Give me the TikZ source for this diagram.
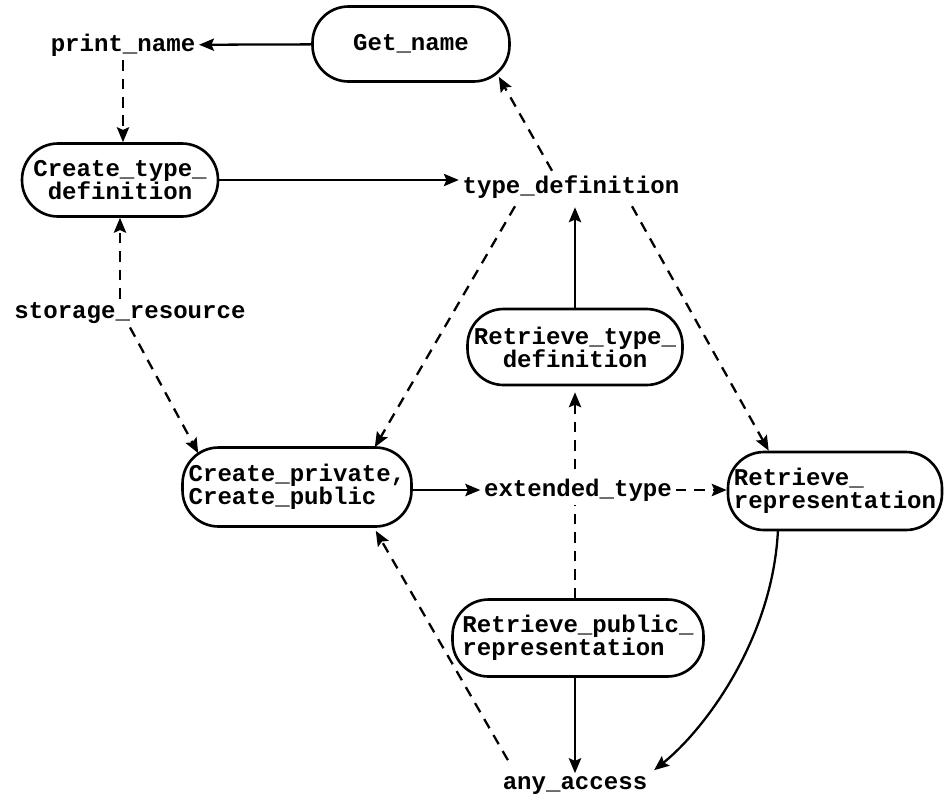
\documentclass[tikz,border=0pt]{standalone}
\usepackage{fontspec}
\setmainfont{Liberation Mono}
\usetikzlibrary{arrows.meta,calc,backgrounds}

\begin{document}
\begin{tikzpicture}[x=0.02cm,y=-0.02cm,
  font=\fontsize{13.7}{13.2}\selectfont\bfseries,
  proc/.style={draw,line width=1.5pt,rounded corners=0.72cm,inner sep=0pt,align=center},
  data/.style={inner sep=2pt},
  flow/.style={line width=1.3pt,-{Stealth[length=8.5pt,width=7pt,inset=1.5pt]}},
  dep/.style={flow,dash pattern=on 6pt off 4.5pt},
]
\useasboundingbox (0,0) rectangle (944,799);

% operations and the objects they handle
\node[proc,minimum width=3.94cm,minimum height=1.5cm] (getname) at (411,44) {Get\_name};
\node[data] (printname) at (123,45) {print\_name};
\node[proc,minimum width=3.92cm,minimum height=1.46cm] (createtype) at (120,180) {Create\_type\_\\definition};
\node[data] (typedef) at (571,187) {type\_definition};
\node[data] (storage) at (130,313) {storage\_resource};
\node[proc,minimum width=4.3cm,minimum height=1.52cm] (retrtype) at (575,347) {Retrieve\_type\_\\definition};
\node[proc,align=left,minimum width=4.58cm,minimum height=1.58cm] (createpriv) at (297,487) {Create\_private,\\Create\_public};
\node[data,fill=white] (exttype) at (578,490) {extended\_type};
\node[proc,align=left,minimum width=4.28cm,minimum height=1.56cm] (retrrep) at (835,491) {Retrieve\_\\representation};
\node[proc,align=left,minimum width=5.02cm,minimum height=1.54cm] (retrpub) at (578,638) {Retrieve\_public\_\\representation};
\node[data] (anyacc) at (575,786) {any\_access};

\begin{scope}[on background layer]
% solid connectors
\draw[flow] (getname) -- (printname);
\draw[flow] (createtype.east) -- (createtype.east -| typedef.west);
\draw[flow] (retrtype.north) -- ($(retrtype.north |- typedef.south)+(0,5)$);
\draw[flow] (createpriv.east |- exttype) -- (exttype.west);
\draw[flow] (retrtype.south |- retrpub.south) -- (retrtype.south |- anyacc.north);
\draw[flow] ($(retrrep.south)+(-57,-2)$) .. controls +(-5,110) and +(50,-40) .. ($(anyacc.north east)+(3,-3)$);

% dashed connectors
\draw[dep] (printname.south) -- (printname.south |- createtype.north);
\draw[dep] (storage.north -| createtype.south) -- (createtype.south);
\draw[dep] ($(typedef.north)+(-19,-1)$) -- ($(getname.south east)+(-12,-6)$);
\draw[dep] (storage.south) -- ($(createpriv.north west)+(17,7)$);
\draw[dep] ($(typedef.south)+(-56,4)$) -- ($(createpriv.north east)+(-38,1)$);
\draw[dep] ($(typedef.south)+(61,4)$) -- ($(retrrep.north west)+(42,0)$);
\draw[dep] (exttype.east) -- (exttype.east -| retrrep.west);
\draw[dep] (retrtype.south |- retrpub.north) -- ($(retrtype.south)+(0,6)$);
\draw[dep] ($(anyacc.north west)+(9,-13)$) -- ($(createpriv.south east)+(-37,3)$);
\end{scope}
\end{tikzpicture}
\end{document}
